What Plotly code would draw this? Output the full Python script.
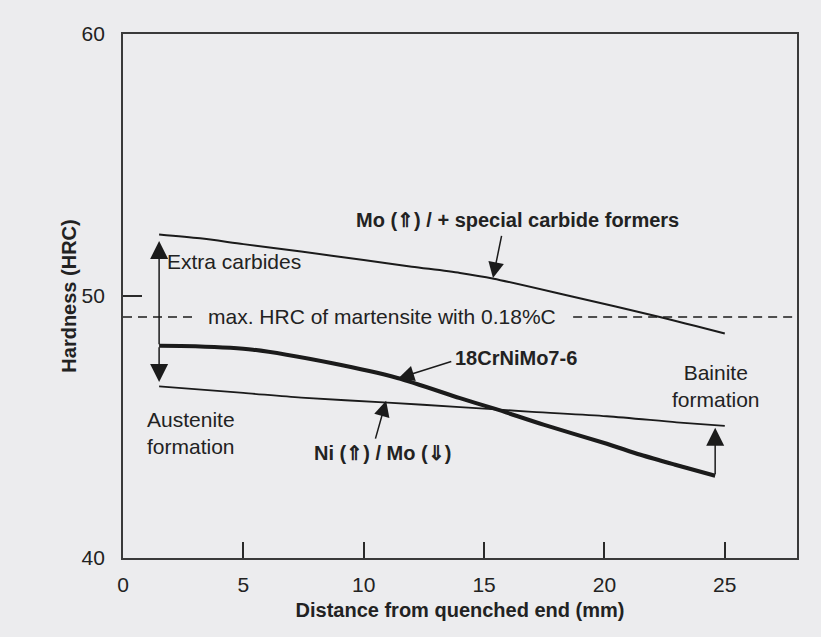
import plotly.graph_objects as go

# Jominy hardness profiles (distance in mm, hardness in HRC)
mo_x = [1.5, 3.2, 5.0, 7.4, 10.0, 12.0, 14.0, 15.4, 18.7, 22.3, 25.0]
mo_y = [52.35, 52.2, 51.98, 51.7, 51.37, 51.12, 50.88, 50.66, 49.97, 49.2, 48.57]

steel_x = [1.5, 3.0, 5.4, 8.7, 11.4, 14.0, 15.5, 17.5, 20.1, 21.5, 22.9, 24.6]
steel_y = [48.1, 48.08, 47.95, 47.43, 46.87, 46.1, 45.68, 45.08, 44.36, 43.94, 43.57, 43.14]

ni_x = [1.5, 5.0, 7.4, 11.0, 14.0, 17.0, 20.1, 23.0, 25.0]
ni_y = [46.55, 46.3, 46.12, 45.93, 45.76, 45.58, 45.41, 45.18, 45.04]

# martensite limit for 0.18 %C, drawn either side of its label
mart_hrc = 49.2
mart_left_x = [0.0, 3.05]
mart_right_x = [18.7, 27.9]

x_ticks = [0, 5, 10, 15, 20, 25]
y_ticks = [40, 50, 60]

INK = "#1b1b1b"
BG = "#ececee"
TXT = "#222222"
FONT = "Liberation Sans, Arial, Helvetica, sans-serif"
FS_BOLD = 20
FS_REG = 21

fig = go.Figure()

fig.add_trace(go.Scatter(x=mo_x, y=mo_y, mode="lines",
                         line=dict(color=INK, width=2, shape="spline", smoothing=0.8),
                         hoverinfo="skip"))
fig.add_trace(go.Scatter(x=steel_x, y=steel_y, mode="lines",
                         line=dict(color=INK, width=4, shape="spline", smoothing=0.8),
                         hoverinfo="skip"))
fig.add_trace(go.Scatter(x=ni_x, y=ni_y, mode="lines",
                         line=dict(color=INK, width=1.8, shape="spline", smoothing=0.8),
                         hoverinfo="skip"))
for seg in (mart_left_x, mart_right_x):
    fig.add_trace(go.Scatter(x=seg, y=[mart_hrc, mart_hrc], mode="lines",
                             line=dict(color=INK, width=1.6, dash="9px,6px"),
                             hoverinfo="skip"))


def arrow(tip_x, tip_y, tail_x, tail_y, head_size):
    fig.add_annotation(x=tip_x, y=tip_y, ax=tail_x, ay=tail_y,
                       xref="x", yref="y", axref="x", ayref="y",
                       text="", showarrow=True, arrowhead=2,
                       arrowsize=head_size, arrowwidth=1.5,
                       arrowcolor=INK, standoff=0, startstandoff=0)


def label(text, x, y, bold=False, xanchor="center", align="center"):
    fig.add_annotation(x=x, y=y, xref="x", yref="y",
                       text=f"<b>{text}</b>" if bold else text,
                       showarrow=False, xanchor=xanchor, yanchor="middle",
                       align=align,
                       font=dict(family=FONT, size=FS_BOLD if bold else FS_REG,
                                 color=TXT))


# extra carbides / austenite formation at the quenched end
arrow(1.5, 52.1, 1.5, 48.1, 2.4)
arrow(1.5, 46.72, 1.5, 48.1, 2.4)
# bainite formation at the far end
arrow(24.6, 44.97, 24.6, 43.15, 2.4)
# pointers from labels to curves
arrow(15.37, 50.69, 15.74, 52.35, 2.1)
arrow(11.44, 46.86, 13.7, 47.52, 2.1)
arrow(10.93, 46.0, 10.47, 44.5, 2.1)

label("Mo (⇑) / + special carbide formers", 16.4, 52.9, bold=True)
label("Extra carbides", 1.75, 51.33, xanchor="left", align="left")
label("max. HRC of martensite with 0.18%C", 10.78, mart_hrc)
label("18CrNiMo7-6", 13.72, 47.62, bold=True, xanchor="left", align="left")
label("Ni (⇑) / Mo (⇓)", 10.78, 44.0, bold=True)
label("Austenite<br>formation", 2.81, 44.78)
label("Bainite<br>formation", 24.62, 46.57)

axis_common = dict(showline=True, linecolor="#3a3a3a", linewidth=1.8, mirror=True,
                   showgrid=False, zeroline=False, ticks="inside",
                   tickcolor="#2a2a2a", tickwidth=1.5,
                   tickfont=dict(family=FONT, size=FS_REG, color=TXT))

fig.update_xaxes(range=[0, 28], tickvals=x_ticks, ticklen=16,
                 ticklabelstandoff=7,
                 title=dict(text="<b>Distance from quenched end (mm)</b>",
                            font=dict(family=FONT, size=FS_BOLD, color=TXT),
                            standoff=8),
                 **axis_common)
fig.update_yaxes(range=[40, 60], tickvals=y_ticks, ticklen=19,
                 ticklabelstandoff=12,
                 title=dict(text="<b>Hardness (HRC)</b>",
                            font=dict(family=FONT, size=FS_BOLD, color=TXT),
                            standoff=0),
                 **axis_common)

fig.update_layout(width=821, height=637,
                  margin=dict(l=123, r=24, t=34, b=79),
                  paper_bgcolor=BG, plot_bgcolor=BG,
                  showlegend=False,
                  font=dict(family=FONT, size=FS_REG, color=TXT))

fig.write_html("out.html")
